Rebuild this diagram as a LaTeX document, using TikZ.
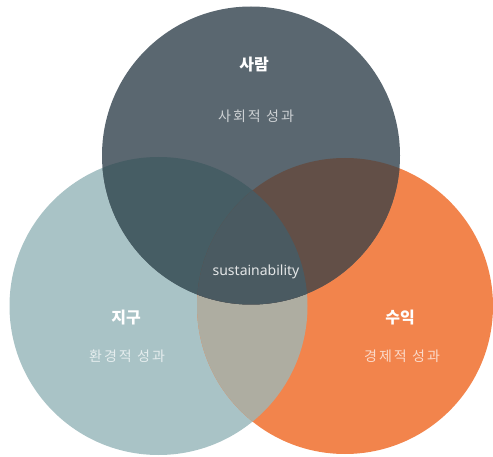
\documentclass[tikz,border=0pt]{standalone}
\usepackage{fontspec}
\newfontfamily\kr{Noto Sans CJK KR}
\newfontfamily\krsub[LetterSpace=15]{Noto Sans CJK KR}
\setmainfont{Noto Sans}
\definecolor{ctop}{HTML}{5A6770}
\definecolor{cleft}{HTML}{A9C3C6}
\definecolor{cright}{HTML}{F2844C}
\definecolor{ctl}{HTML}{465D64}
\definecolor{ctr}{HTML}{624F47}
\definecolor{clr}{HTML}{AEADA1}
\definecolor{call}{HTML}{4A5A61}
\tikzset{
  title/.style={text=white, font=\kr\bfseries\fontsize{16}{18}\selectfont},
  sub/.style={text=white, text opacity=0.7, font=\krsub\fontsize{14}{16}\selectfont},
}
\begin{document}
\begin{tikzpicture}[x=1pt,y=-1pt]
\useasboundingbox (0,0) rectangle (493,457);
\def\Ctop{(251,155.5) circle (149)}
\def\Cleft{(158.5,306) circle (149)}
\def\Cright{(345,306) circle (148)}
\fill[cleft] \Cleft;
\fill[cright] \Cright;
\begin{scope}\clip \Cleft; \fill[clr] \Cright; \end{scope}
\fill[ctop] \Ctop;
\begin{scope}\clip \Ctop; \fill[ctl] \Cleft; \end{scope}
\begin{scope}\clip \Ctop; \fill[ctr] \Cright; \end{scope}
\begin{scope}\clip \Ctop; \clip \Cleft; \fill[call] \Cright; \end{scope}
\node[title] (t1) at (254,65) {사람};
\node[sub] (s1) at (256,116) {사회적 성과};
\node[title] (t2) at (126,318) {지구};
\node[sub] (s2) at (127,356) {환경적 성과};
\node[title] (t3) at (400,318) {수익};
\node[sub] (s3) at (402,356) {경제적 성과};
\node[text=white, text opacity=0.85, font=\fontsize{14}{16}\selectfont] (c) at (256,272) {sustainability};
\end{tikzpicture}
\end{document}
